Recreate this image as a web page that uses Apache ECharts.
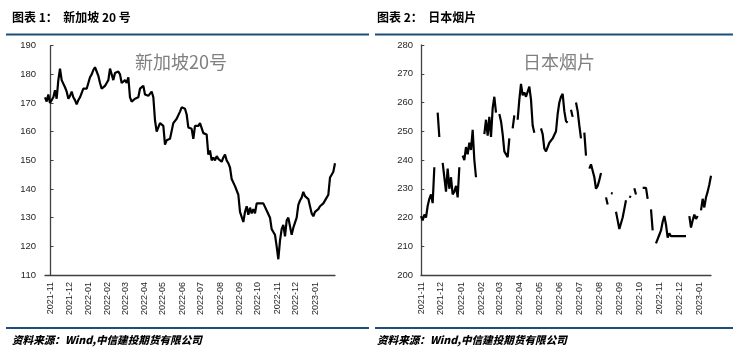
<!DOCTYPE html>
<html>
<head>
<meta charset="utf-8">
<script src="https://cdn.jsdelivr.net/npm/echarts@6/dist/echarts.min.js"></script>
<style>
  html, body { margin: 0; padding: 0; background: #fff; }
  #main { width: 739px; height: 353px; }
</style>
</head>
<body>
<div id="main"></div>
<script>
// 月份刻度
const monthLabels = ['2021-11', '2021-12', '2022-01', '2022-02', '2022-03', '2022-04', '2022-05',
  '2022-06', '2022-07', '2022-08', '2022-09', '2022-10', '2022-11', '2022-12', '2023-01']

// 新加坡20号 (约每2.7天一个点)
const sgValues = [
  172, 170.5, 173, 170, 169.5, 172, 174.5, 171.5, 178, 182,
  178, 178.5, 175.5, 174, 171.5, 172.5, 174, 172, 171, 169.5,
  171, 172, 172, 175, 175, 175, 177, 179, 180, 181.5,
  182.5, 181, 179.5, 177, 175, 175, 176, 177, 178, 182,
  180, 178, 180.5, 180, 181, 180, 177, 177.5, 178, 177,
  179, 172, 170.5, 171, 171.5, 171.5, 172, 175, 175.5, 176,
  173, 173, 172.5, 173, 174, 172, 164, 160, 159.5, 163,
  162.5, 162, 155.5, 157, 157.5, 157.5, 157, 163, 163.5, 164.5,
  165, 167, 168.5, 168, 168, 166, 161.5, 161, 161, 157.5,
  162, 162.5, 162, 163, 163.5, 159.5, 159.5, 159, 152, 153.5,
  150, 151, 150, 151.5, 150.5, 150, 149.5, 151, 152, 150,
  149, 147.5, 143.5, 143.5, 141, 141, 138, 132, 131.5, 128.5,
  132, 134, 131, 133.5, 131.5, 133, 131.5, 135, 134.5, 135,
  135, 135, 135.5, 132.5, 132, 130, 126, 125, 124, 120,
  115.5, 122, 126, 127.5, 123.5, 129, 130, 127, 124, 126.5,
  127, 130, 134.5, 136, 137, 139, 137.5, 137, 136.5, 134,
  131.5, 130.5, 132, 131.5, 133, 134, 133.5, 135, 135, 137,
  138, 144, 145, 146, 149
]

// 日本烟片 (null 为缺失)
const jpValues = [
  220.5, 219, 221, 220, 224, 226.5, 228, 225, 237.5, null,
  256.5, 248, null, 239, 239, 229, 237, 230, 234, 228,
  229, 231, 227, 237.5, null, 241.5, 240, 244.5, 242, 246,
  243.5, 250.5, 240, 234, null, null, null, null, 249, 254,
  248.5, 255, 248, 258, 262, 256.5, null, 256, 253.5, 249,
  243, 242.5, 241, 247.5, null, 251, 255.5, null, 254, 261,
  266.5, 262.5, 263.5, 262, 262, 265.5, 261, 252, 249.5, null,
  null, null, 251, 249, 244, 243, 244.5, 246, 245.5, 247.5,
  247, 250, 256, 260, 262, 263, 257, 253.5, 253, null,
  257.5, 255, null, 260, 257, 252, 247.5, null, 249.5, 241.5,
  null, 237, 238.5, 239, 234, 230, 231, 233, 235.5, null,
  null, 227, 224.5, null, 228.5, 228.3, null, 222, 219, 216,
  216.5, 220, 223, 226, null, 227.4, 227, null, 230.2, 228,
  null, null, null, 230.3, 230.3, 230.3, 226.5, null, 222.8, 215.5,
  null, 211, 210.5, 214, 215.5, 218.5, 220.5, 217.5, 213, 214.5,
  213.5, 213.5, 213.5, 213.5, 213.5, 213.5, 213.5, 213.5, 213.5, 213.5,
  null, 220.5, 216.5, 219, 221, 219.5, 220.5, null, 222.5, 226.5,
  223.5, 227, 229, 231.5, 234.5
]

const sgTicks = [110, 190]
const jpTicks = [200, 280]

// 日期轴: 以 2021-11-01 为第0天
const DAY = 86400000
const base = Date.UTC(2021, 10, 1)
const monthDays = monthLabels.map((s) => {
  const [y, m] = s.split('-').map(Number)
  return Math.round((Date.UTC(y, m - 1, 1) - base) / DAY)
})
const sgRange = [-8.9, 458.1]
const jpRange = [-0.5, 443.9]

function toPoints(values, range) {
  const step = (range[1] - range[0]) / (values.length - 1)
  return values.map((v, i) => [range[0] + i * step, v])
}

const axisColor = '#404040'
const labelFont = 'Arial, "Liberation Sans", sans-serif'

function xAxisOf(idx, range) {
  return {
    type: 'value',
    gridIndex: idx,
    min: range[0],
    max: range[1],
    splitLine: { show: false },
    axisTick: { show: false },
    axisLine: { show: true, lineStyle: { color: axisColor, width: 1.3 } },
    axisLabel: {
      customValues: monthDays,
      rotate: 90,
      margin: 7,
      fontSize: 9,
      color: '#262626',
      fontFamily: labelFont,
      formatter: (v) => {
        const k = monthDays.indexOf(Math.round(v))
        return k >= 0 ? monthLabels[k] : ''
      },
    },
  }
}

function yAxisOf(idx, ticks, margin) {
  return {
    type: 'value',
    gridIndex: idx,
    min: ticks[0],
    max: ticks[1],
    interval: 10,
    splitLine: { show: false },
    axisLine: { show: true, lineStyle: { color: axisColor, width: 1.3 } },
    axisTick: { show: true, inside: true, length: 3, lineStyle: { color: axisColor } },
    axisLabel: { fontSize: 9.5, color: '#262626', margin: margin, fontFamily: labelFont },
  }
}

const blue = '#1F4E79'
function hline(x1, x2, y) {
  return { type: 'rect', shape: { x: x1, y: y - 1, width: x2 - x1, height: 2 }, style: { fill: blue }, silent: true }
}
function text(x, y, str, font, fill) {
  return { type: 'text', x: x, y: y, style: { text: str, font: font, fill: fill, verticalAlign: 'middle' }, silent: true }
}

const headFont = 'bold 12px "Noto Sans CJK SC", sans-serif'
const footFont = 'italic 900 10.6px "Noto Sans CJK SC", sans-serif'
const innerFont = '18px "Noto Sans CJK SC", sans-serif'

const myCharts = echarts.init(document.getElementById('main'), null, { renderer: 'canvas' })
myCharts.setOption({
  animation: false,
  grid: [
    { left: 45, top: 45.7, width: 290, height: 229.3 },
    { left: 421, top: 45, width: 290, height: 230 },
  ],
  xAxis: [xAxisOf(0, sgRange), xAxisOf(1, jpRange)],
  yAxis: [yAxisOf(0, sgTicks, 9), yAxisOf(1, jpTicks, 8)],
  series: [
    {
      type: 'line',
      xAxisIndex: 0,
      yAxisIndex: 0,
      data: toPoints(sgValues, sgRange),
      showSymbol: false,
      lineStyle: { color: '#000', width: 2.2 },
    },
    {
      type: 'line',
      xAxisIndex: 1,
      yAxisIndex: 1,
      data: toPoints(jpValues, jpRange),
      showSymbol: false,
      connectNulls: false,
      lineStyle: { color: '#000', width: 2.2 },
    },
  ],
  graphic: [
    text(12, 17, '图表 1：  新加坡 20 号', headFont, '#000'),
    text(377, 17, '图表 2：  日本烟片', headFont, '#000'),
    hline(6, 369, 34.5),
    hline(375, 733, 34.5),
    text(135, 62, '新加坡20号', innerFont, '#808080'),
    text(523, 62, '日本烟片', innerFont, '#808080'),
    hline(6, 369, 328),
    hline(375, 733, 328),
    text(12, 340, '资料来源：Wind,中信建投期货有限公司', footFont, '#000'),
    text(377, 340, '资料来源：Wind,中信建投期货有限公司', footFont, '#000'),
  ],
})
</script>
</body>
</html>
